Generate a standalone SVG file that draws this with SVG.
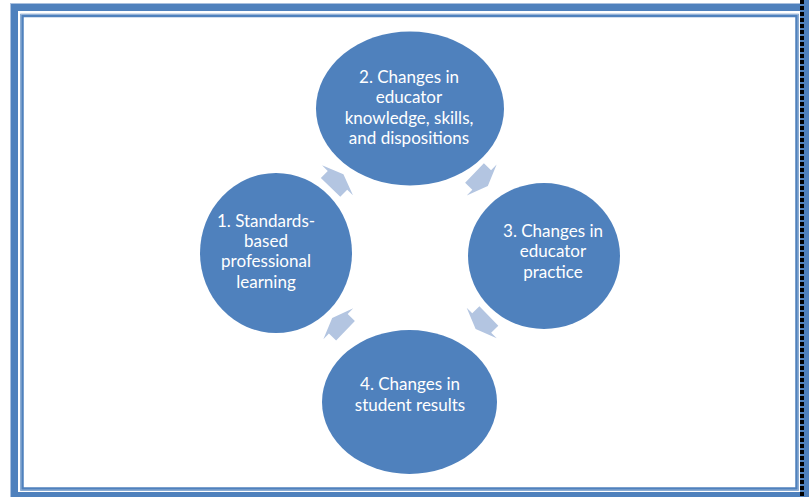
<svg xmlns="http://www.w3.org/2000/svg" xmlns:xlink="http://www.w3.org/1999/xlink" width="809" height="497" viewBox="0 0 809 497">
<style>
.node{fill:#4f81bd}
.lbl{font-family:Lato,"Liberation Sans",sans-serif;font-size:17px;fill:#ffffff;text-anchor:middle}
.arr{fill:#b3c5e1}
</style>
<defs>
<path id="arrow" d="M8.5,0 L0,-21.5 L0,-13.5 L-10,-13.5 L-10,13.5 L0,13.5 L0,21.5 Z"/>
</defs>
<rect x="0" y="0" width="809" height="497" fill="#ffffff"/>
<g id="frame">
<rect x="14" y="7" width="792" height="489" fill="none" stroke="#4f81bd" stroke-width="8"/>
<rect x="10.5" y="3.5" width="800" height="500" fill="none" stroke="#a9c0df" stroke-width="1"/>
<rect x="800" y="0" width="9" height="497" fill="#4f81bd"/>
<line x1="802" y1="0" x2="802" y2="497" stroke="#000000" stroke-width="4" stroke-dasharray="4 2"/>
<rect x="22" y="15.5" width="775" height="473.5" fill="none" stroke="#4f81bd" stroke-width="3.5"/>
<rect x="21" y="14.5" width="777" height="475.5" fill="none" stroke="#a9c0df" stroke-width="0.8"/>
</g>
<g id="connectors">
<use xlink:href="#arrow" class="arr" transform="translate(337.5,180.3) rotate(-46)"/>
<use xlink:href="#arrow" class="arr" transform="translate(481.7,180) rotate(44)"/>
<use xlink:href="#arrow" class="arr" transform="translate(481.7,323) rotate(135.6)"/>
<use xlink:href="#arrow" class="arr" transform="translate(338.3,323.8) rotate(-136)"/>
</g>
<g id="node1">
<ellipse class="node" cx="276" cy="253" rx="76" ry="80"/>
<text class="lbl" x="266" y="226.5">1. Standards-</text>
<text class="lbl" x="266" y="247">based</text>
<text class="lbl" x="266" y="267">professional</text>
<text class="lbl" x="266" y="287.5">learning</text>
</g>
<g id="node2">
<ellipse class="node" cx="410" cy="108.5" rx="94" ry="77"/>
<text class="lbl" x="409" y="83">2. Changes in</text>
<text class="lbl" x="409" y="103.3">educator</text>
<text class="lbl" x="409" y="123.6">knowledge, skills,</text>
<text class="lbl" x="409" y="144">and dispositions</text>
</g>
<g id="node3">
<ellipse class="node" cx="544" cy="256" rx="76" ry="73"/>
<text class="lbl" x="553" y="237">3. Changes in</text>
<text class="lbl" x="553" y="257.3">educator</text>
<text class="lbl" x="553" y="277.6">practice</text>
</g>
<g id="node4">
<ellipse class="node" cx="409.5" cy="402" rx="87.5" ry="72"/>
<text class="lbl" x="410" y="390">4. Changes in</text>
<text class="lbl" x="410" y="410.7">student results</text>
</g>
</svg>
